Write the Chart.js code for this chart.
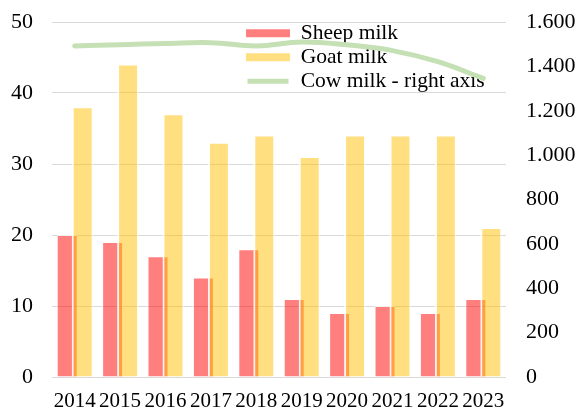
<!DOCTYPE html>
<html>
<head>
<meta charset="utf-8">
<script src="https://cdn.jsdelivr.net/npm/chart.js@4.4.1/dist/chart.umd.min.js"></script>
<style>
  html, body { margin: 0; padding: 0; background: #fff; }
</style>
</head>
<body>
<canvas id="milkChart" width="579" height="409"></canvas>
<script>
// 연도별 우유 생산량
const years = ["2014", "2015", "2016", "2017", "2018", "2019", "2020", "2021", "2022", "2023"];
const sheepMilk = [20, 19, 17, 14, 18, 11, 9, 10, 9, 11];
const goatMilk = [38, 44, 37, 33, 34, 31, 34, 34, 34, 21];
const cowMilk = [1492, 1498, 1503, 1507, 1492, 1510, 1497, 1471, 1421, 1346]; // 오른쪽 축

Chart.defaults.font.family = '"Liberation Serif", serif';
Chart.defaults.font.size = 21;
Chart.defaults.color = "#000";

// 1.600 처럼 점으로 천 단위 표시
const formatThousands = (value) =>
  value >= 1000 ? `${Math.floor(value / 1000)}.${String(value % 1000).padStart(3, "0")}` : `${value}`;

// 범례를 차트 영역 안 오른쪽 위로 이동
const legendInside = {
  id: "legendInside",
  afterLayout(chart) {
    const legend = chart.legend;
    legend.left = chart.chartArea.left + 191.5;
    legend.right = legend.left + legend.width;
    legend.top = chart.chartArea.top - 2;
    legend.bottom = legend.top + legend.height;
  },
};

// 산양유 막대를 양유 막대 위에 그리기 (오른쪽 막대가 위로)
const goatOnTop = {
  id: "goatOnTop",
  beforeDatasetDraw(chart, args) {
    if (args.index === 1) return false;
  },
  afterDatasetDraw(chart, args) {
    if (args.index === 0) {
      chart.getDatasetMeta(1).controller.draw();
    }
  },
};

const ctxMilk = document.getElementById("milkChart").getContext("2d");

const milkChart = new Chart(ctxMilk, {
  type: "bar",
  data: {
    labels: years,
    datasets: [
      {
        label: "Sheep milk",
        data: sheepMilk,
        backgroundColor: "rgba(255, 0, 0, 0.5)",
        borderColor: "rgba(255, 255, 255, 0.6)",
        borderWidth: 1,
        categoryPercentage: 0.66,
        barPercentage: 1.4, // 막대끼리 겹치게
        yAxisID: "y",
        order: 1,
      },
      {
        label: "Goat milk",
        data: goatMilk,
        backgroundColor: "rgba(255, 192, 0, 0.5)",
        borderColor: "rgba(255, 255, 255, 0.9)",
        borderWidth: { left: 2, top: 1, right: 1, bottom: 0 },
        categoryPercentage: 0.66,
        barPercentage: 1.4,
        yAxisID: "y",
        order: 2,
      },
      {
        type: "line",
        label: "Cow milk - right axis",
        data: cowMilk,
        borderColor: "#C5E0B4",
        backgroundColor: "#C5E0B4",
        borderWidth: 5,
        borderCapStyle: "round",
        tension: 0.4,
        pointRadius: 0,
        fill: false,
        yAxisID: "y1",
        order: 0,
      },
    ],
  },
  options: {
    responsive: false,
    animation: false,
    layout: {
      padding: { top: 22 },
    },
    plugins: {
      tooltip: { enabled: false },
      legend: {
        position: "chartArea",
        fullSize: false,
        align: "start",
        labels: {
          boxWidth: 44,
          boxHeight: 8,
          padding: 2.5,
          color: "#000",
          font: { size: 21.5 },
          generateLabels: (chart) => {
            const items = Chart.defaults.plugins.legend.labels.generateLabels(chart);
            items.sort((a, b) => a.datasetIndex - b.datasetIndex);
            items.forEach((item) => {
              item.lineWidth = 0;
              if (item.datasetIndex === 2) {
                // 선 범례는 흰 테두리로 가늘게
                item.strokeStyle = "#fff";
                item.lineWidth = 3;
              }
            });
            return items;
          },
        },
      },
    },
    scales: {
      x: {
        grid: { display: false },
        border: { display: false },
        ticks: { padding: 4, maxRotation: 0 },
        afterFit: (scale) => { scale.height = 32; },
      },
      y: {
        position: "left",
        min: 0,
        max: 50,
        // 눈금선 대신 투명한 tick 길이로 라벨 간격을 둔다
        grid: { color: "#D9D9D9", tickLength: 19, tickColor: "rgba(0, 0, 0, 0)" },
        border: { display: false },
        ticks: { stepSize: 10, padding: 0, font: { size: 22 } },
        afterFit: (scale) => { scale.width = 52; },
      },
      y1: {
        position: "right",
        min: 0,
        max: 1600,
        grid: { drawOnChartArea: false, tickLength: 20, tickColor: "rgba(0, 0, 0, 0)" },
        border: { display: false },
        ticks: {
          stepSize: 200,
          padding: 0,
          font: { size: 22 },
          callback: (value) => formatThousands(value),
        },
        afterFit: (scale) => { scale.width = 73; },
      },
    },
  },
  plugins: [legendInside, goatOnTop],
});
</script>
</body>
</html>
